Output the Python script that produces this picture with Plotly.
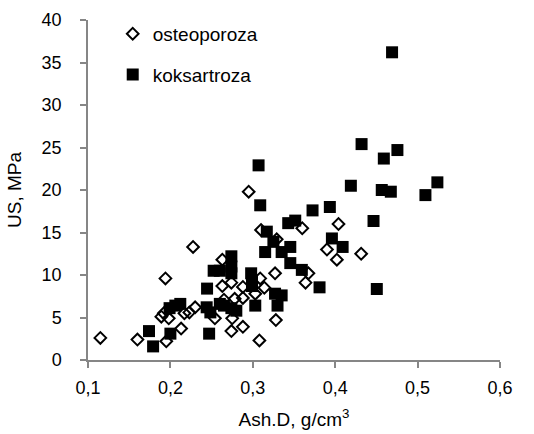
import plotly.graph_objects as go

# Ash density (g/cm3) and ultimate strength (MPa) per specimen
osteo_x = [0.115, 0.160, 0.195, 0.194, 0.2275, 0.189, 0.192, 0.198, 0.213, 0.217,
           0.223, 0.230, 0.254, 0.263, 0.263, 0.274, 0.265, 0.275, 0.274, 0.278,
           0.288, 0.288, 0.288, 0.295, 0.303, 0.308, 0.309, 0.314, 0.310, 0.327,
           0.328, 0.329, 0.360, 0.364, 0.404, 0.390, 0.402, 0.4315, 0.3675, 0.605]
osteo_y = [2.6, 2.4, 2.2, 9.6, 13.3, 5.1, 5.5, 4.9, 3.7, 5.5,
           5.6, 6.2, 4.9, 11.8, 8.7, 9.1, 7.1, 4.9, 3.4, 7.2,
           8.6, 7.3, 3.9, 19.8, 7.8, 2.3, 9.6, 8.5, 15.3, 10.2,
           4.7, 14.2, 15.5, 9.1, 16.0, 13.0, 11.8, 12.5, 10.2, 10.6]

koks_x = [0.174, 0.179, 0.200, 0.199, 0.206, 0.212, 0.2445, 0.244, 0.2485, 0.247,
          0.2525, 0.260, 0.260, 0.265, 0.274, 0.274, 0.274, 0.274, 0.280, 0.298,
          0.299, 0.299, 0.303, 0.309, 0.317, 0.315, 0.325, 0.327, 0.335, 0.330,
          0.335, 0.3455, 0.3455, 0.343, 0.3515, 0.3595, 0.3725, 0.3935, 0.4465, 0.396,
          0.409, 0.381, 0.4505, 0.469, 0.432, 0.4755, 0.459, 0.419, 0.4565, 0.4675,
          0.524, 0.5095, 0.307]
koks_y = [3.4, 1.6, 3.1, 6.1, 6.4, 6.6, 8.4, 6.2, 5.6, 3.1,
          10.5, 10.5, 6.6, 6.4, 12.2, 11.0, 10.2, 6.1, 5.8, 10.2,
          9.2, 8.7, 6.4, 18.2, 15.1, 12.7, 13.9, 7.8, 7.6, 6.4,
          12.7, 13.3, 11.4, 16.1, 16.4, 10.6, 17.6, 18.0, 16.35, 14.3,
          13.3, 8.55, 8.35, 36.2, 25.4, 24.7, 23.7, 20.5, 20.0, 19.8,
          20.9, 19.4, 22.9]

x_ticks = [0.1, 0.2, 0.3, 0.4, 0.5, 0.6]
y_ticks = [0, 5, 10, 15, 20, 25, 30, 35, 40]

FONT = "Liberation Sans, Arial, sans-serif"
GRAY = "#868686"
FS = 18

fig = go.Figure()
fig.add_trace(go.Scatter(
    x=osteo_x, y=osteo_y, mode="markers", name="osteoporoza",
    legendgroup="a", cliponaxis=False,
    marker=dict(symbol="diamond-open", size=9, color="black",
                line=dict(color="black", width=2)),
))
fig.add_trace(go.Scatter(
    x=koks_x, y=koks_y, mode="markers", name="koksartroza",
    legendgroup="b", cliponaxis=False,
    marker=dict(symbol="square", size=12, color="black",
                line=dict(color="black", width=0)),
))

fig.update_layout(
    width=534, height=434,
    margin=dict(l=88, r=34, t=20, b=74),
    paper_bgcolor="white", plot_bgcolor="white",
    separators=", ",
    font=dict(family=FONT, size=FS, color="black"),
    showlegend=True,
    legend=dict(x=0.06, y=1.015, xanchor="left", yanchor="top",
                bgcolor="rgba(0,0,0,0)", font=dict(size=19, family=FONT),
                tracegroupgap=13, itemsizing="trace", itemwidth=30),
    xaxis=dict(range=[0.1, 0.6], tickvals=x_ticks, tickformat=".1f",
               automargin=False,
               showgrid=False, zeroline=False,
               showline=True, linecolor=GRAY, linewidth=1.5,
               ticks="outside", ticklen=6, tickcolor=GRAY, tickwidth=1.5,
               ticklabelstandoff=5,
               tickfont=dict(size=FS, family=FONT),
               title=dict(text="Ash.D, g/cm<sup>3</sup>", font=dict(size=19, family=FONT))),
    yaxis=dict(range=[0, 40], tickvals=y_ticks,
               automargin=False,
               showgrid=False, zeroline=False,
               showline=True, linecolor=GRAY, linewidth=1.5,
               ticks="outside", ticklen=6, tickcolor=GRAY, tickwidth=1.5,
               ticklabelstandoff=15,
               tickfont=dict(size=FS, family=FONT),
               title=dict(text="US, MPa", font=dict(size=19, family=FONT))),
)

fig.write_html("out.html")
